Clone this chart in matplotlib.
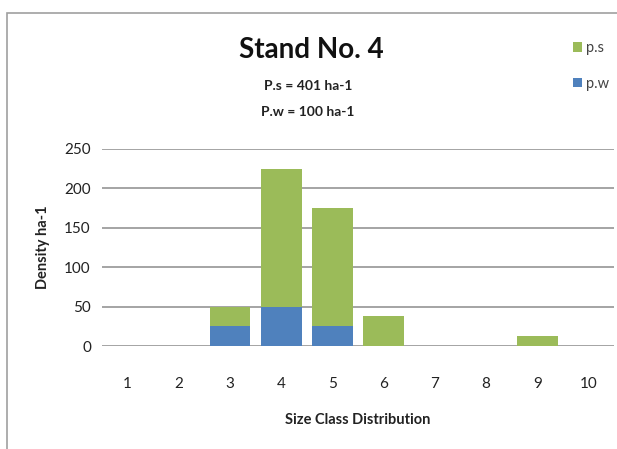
import matplotlib
matplotlib.use("Agg")
import matplotlib.pyplot as plt
from matplotlib.patches import Rectangle
import numpy as np

plt.rcParams['font.family'] = ['Lato', 'DejaVu Sans']

size_classes = ['1', '2', '3', '4', '5', '6', '7', '8', '9', '10']
p_w = [0, 0, 25, 50, 25, 0, 0, 0, 0, 0]
p_s = [0, 0, 25, 175, 150, 37.5, 0, 0, 12.5, 0]
yticks = [0, 50, 100, 150, 200, 250]

green = '#9BBB59'
blue = '#4F81BD'

fig = plt.figure(figsize=(6.17, 4.49), dpi=100)
W, H = 617, 449

# outer chart frame (runs off the right and bottom edges)
fig.patches.append(Rectangle((7 / W, -0.05), 1.1, (H - 13) / H + 0.05,
                             transform=fig.transFigure, fill=False,
                             edgecolor='#a0a0a0', linewidth=1.2))

ax = fig.add_axes([102 / W, 1 - 346 / H, 512 / W, 197 / H])
x = np.arange(len(size_classes))
ax.bar(x, p_w, width=0.8, color=blue, label='p.w', zorder=3)
ax.bar(x, p_s, width=0.8, bottom=p_w, color=green, label='p.s', zorder=3)

ax.set_xlim(-0.5, len(size_classes) - 0.5)
ax.set_ylim(0, 250)
ax.set_yticks(yticks)
ax.set_xticks(x)
ax.set_xticklabels(size_classes)
ax.yaxis.grid(True, color='#8c8c8c', linewidth=1.1, zorder=0)
for s in ax.spines.values():
    s.set_visible(False)
ax.tick_params(length=0, labelsize=11, colors='#222222')
ax.tick_params(axis='x', pad=22)
ax.tick_params(axis='y', pad=8)

ax.set_xlabel('Size Class Distribution', fontsize=10.5, fontweight='bold',
              labelpad=16, color='#222222')
ax.set_ylabel('Density ha-1', fontsize=10.5, fontweight='bold',
              labelpad=10, color='#222222')

fig.text(311 / W, 1 - 50 / H, 'Stand No. 4', ha='center', va='center',
         fontsize=20, fontweight='bold', color='#111111')
fig.text(308 / W, 1 - 86 / H, 'P.s = 401 ha-1', ha='center', va='center',
         fontsize=10, fontweight='bold', color='#222222')
fig.text(308 / W, 1 - 112 / H, 'P.w = 100 ha-1', ha='center', va='center',
         fontsize=10, fontweight='bold', color='#222222')

# legend on the right, p.s above p.w
handles, labels = ax.get_legend_handles_labels()
fig.legend(handles[::-1], labels[::-1], loc='upper left',
           bbox_to_anchor=(560 / W, 1 - 28 / H), frameon=False,
           fontsize=10.5, handlelength=0.6, handleheight=0.6,
           handletextpad=0.3, labelspacing=1.5, labelcolor='#444444')

fig.savefig('out.png', dpi=100)
